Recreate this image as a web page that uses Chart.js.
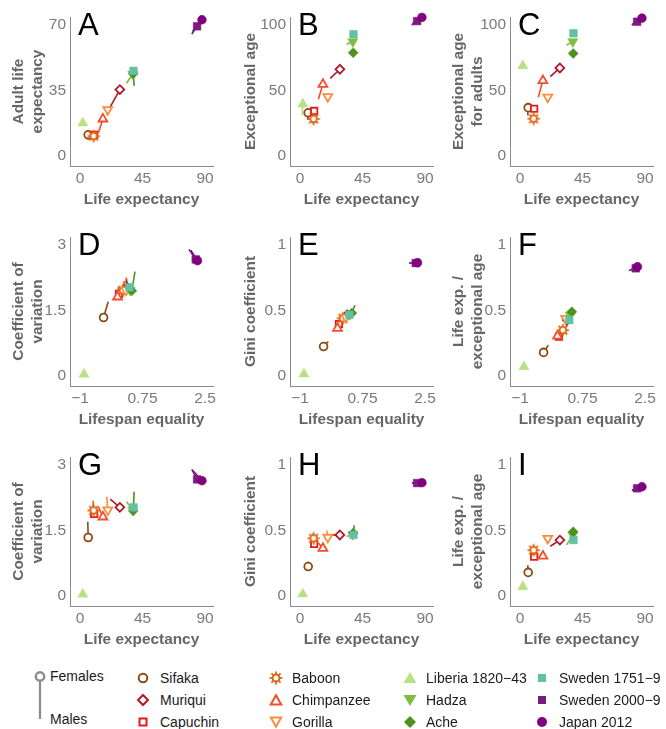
<!DOCTYPE html>
<html>
<head>
<meta charset="utf-8">
<script src="https://cdn.jsdelivr.net/npm/chart.js@4.4.1/dist/chart.umd.min.js"></script>
<style>
  html, body { margin: 0; padding: 0; background: #fff; }
  #fig { position: relative; width: 666px; height: 729px; overflow: hidden; font-family: 'Liberation Sans', Arial, sans-serif; }
  #fig canvas { position: absolute; }
  .leg { position: absolute; font-size: 14px; color: #1a1a1a; line-height: 16px; white-space: nowrap; }
  .mk { position: absolute; }
</style>
</head>
<body>
<div id="fig"></div>
<script>
// ==================== Data ====================
// order: Sifaka, Muriqui, Capuchin, Baboon, Chimpanzee, Gorilla,
//        Liberia, Hadza, Ache, Sweden 1751-9, Sweden 2000-9, Japan 2012
const populations = ['Sifaka', 'Muriqui', 'Capuchin', 'Baboon', 'Chimpanzee', 'Gorilla',
  'Liberia 1820\u221243', 'Hadza', 'Ache', 'Sweden 1751\u22129', 'Sweden 2000\u22129', 'Japan 2012'];

const lifeExpF = [5.9, 28.7, 10.2, 9.8, 16.5, 20.0, 2.0, 38.0, 38.3, 38.5, 84.3, 87.8];
const lifeExpM = [5.6, 21.8, 9.8, 9.5, 13.2, 19.3, 1.7, 33.5, 39.0, 37.0, 80.5, 81.0];

const adultLifeExpF = [11.3, 35.5, 11.3, 10.6, 19.8, 24.8, 17.6, 43.8, 44.0, 45.5, 69.3, 72.8];
const adultLifeExpM = [11.0, 26.3, 10.8, 10.2, 12.3, 22.0, 17.2, 38.9, 37.5, 44.5, 65.2, 66.5];

const exceptAgeF = [33.0, 66.2, 34.4, 28.3, 54.7, 45.3, 39.7, 87.3, 78.9, 92.9, 103.0, 105.8];
const exceptAgeM = [27.5, 59.3, 33.5, 27.5, 43.3, 45.8, 31.0, 85.3, 79.5, 91.5, 100.0, 101.0];

const exceptAgeAdultF = [36.9, 67.2, 36.1, 28.5, 57.6, 44.9, 68.9, 87.3, 78.3, 93.7, 102.5, 105.3];
const exceptAgeAdultM = [31.0, 60.6, 35.0, 28.0, 44.9, 45.5, 68.5, 84.7, 79.0, 92.5, 100.0, 100.5];

const lifespanEqF = [-0.34, 0.32, 0.09, 0.20, 0.05, 0.28, -0.89, 0.40, 0.45, 0.38, 2.24, 2.29];
const lifespanEqM = [-0.21, 0.30, 0.06, 0.24, 0.08, 0.30, -0.91, 0.30, 0.54, 0.34, 2.05, 2.10];

const cvF = [1.34, 2.03, 1.88, 1.96, 1.81, 1.97, 0.04, 1.97, 1.95, 2.03, 2.67, 2.64];
const cvM = [1.70, 2.22, 1.85, 2.18, 2.05, 2.27, 0.03, 2.16, 2.39, 2.06, 2.90, 2.88];

const giniF = [0.225, 0.466, 0.397, 0.44, 0.364, 0.448, 0.015, 0.47, 0.48, 0.466, 0.862, 0.865];
const giniM = [0.262, 0.466, 0.39, 0.475, 0.405, 0.50, 0.012, 0.455, 0.54, 0.47, 0.862, 0.865];

const ratioF = [0.18, 0.427, 0.30, 0.35, 0.305, 0.44, 0.071, 0.466, 0.49, 0.427, 0.822, 0.834];
const ratioM = [0.235, 0.38, 0.295, 0.355, 0.30, 0.44, 0.07, 0.39, 0.47, 0.42, 0.805, 0.81];

// tick labels
const lifeExpTicks = [0, 45, 90];
const adultTicks = [0, 35, 70];
const exceptTicks = [0, 50, 100];
const equalityTicks = [-1, 0.75, 2.5];
const cvTicks = [0, 1.5, 3];
const unitTicks = [0, 0.5, 1];

// ==================== Styles ====================
const colors = ['#8c4a12', '#b2182b', '#e41a1c', '#e0620d', '#f44e2c', '#fd8d3c',
  '#b8e186', '#7fbc41', '#4d9221', '#62c0a3', '#7a1b7d', '#800080'];
const shapes = ['circle', 'diamond', 'square', 'sun', 'triUp', 'triDown',
  'triUp', 'triDown', 'diamond', 'square', 'square', 'circle'];
const filled = [false, false, false, false, false, false, true, true, true, true, true, true];

const FONT = "'Liberation Sans', Arial, sans-serif";
const AXIS_GREY = '#8c8c8c';

// ==================== Markers ====================
function sunMarker(color) {
  const c = document.createElement('canvas');
  c.width = 14; c.height = 14;
  const g = c.getContext('2d');
  g.fillStyle = '#fff';
  g.strokeStyle = color;
  g.lineWidth = 1.7;
  g.beginPath(); g.arc(7, 7, 3.3, 0, Math.PI * 2); g.fill(); g.stroke();
  for (let k = 0; k < 8; k++) {
    const a = k * Math.PI / 4;
    g.beginPath();
    g.moveTo(7 + Math.cos(a) * 3.8, 7 + Math.sin(a) * 3.8);
    g.lineTo(7 + Math.cos(a) * 6.2, 7 + Math.sin(a) * 6.2);
    g.stroke();
  }
  return c;
}

function pointStyleFor(i) {
  switch (shapes[i]) {
    case 'circle': return 'circle';
    case 'diamond': return 'rectRot';
    case 'square': return 'rect';
    case 'sun': return sunMarker(colors[i]);
    default: return 'triangle';
  }
}

function radiusFor(i) {
  const f = filled[i];
  switch (shapes[i]) {
    case 'circle': return f ? 4.4 : 3.9;
    case 'diamond': return f ? 5 : 4.4;
    case 'square': return f ? 5.4 : 4.5;
    case 'sun': return 4;
    default: return f ? 5.9 : 5.1;
  }
}

// ==================== Panels ====================
const panels = [
  { letter: 'A', xF: lifeExpF, xM: lifeExpM, yF: adultLifeExpF, yM: adultLifeExpM, xt: lifeExpTicks, yt: adultTicks, xTitle: 'Life expectancy', yTitle: ['Adult life', 'expectancy'] },
  { letter: 'B', xF: lifeExpF, xM: lifeExpM, yF: exceptAgeF, yM: exceptAgeM, xt: lifeExpTicks, yt: exceptTicks, xTitle: 'Life expectancy', yTitle: 'Exceptional age' },
  { letter: 'C', xF: lifeExpF, xM: lifeExpM, yF: exceptAgeAdultF, yM: exceptAgeAdultM, xt: lifeExpTicks, yt: exceptTicks, xTitle: 'Life expectancy', yTitle: ['Exceptional age', 'for adults'] },
  { letter: 'D', xF: lifespanEqF, xM: lifespanEqM, yF: cvF, yM: cvM, xt: equalityTicks, yt: cvTicks, xTitle: 'Lifespan equality', yTitle: ['Coefficient of', 'variation'] },
  { letter: 'E', xF: lifespanEqF, xM: lifespanEqM, yF: giniF, yM: giniM, xt: equalityTicks, yt: unitTicks, xTitle: 'Lifespan equality', yTitle: 'Gini coefficient' },
  { letter: 'F', xF: lifespanEqF, xM: lifespanEqM, yF: ratioF, yM: ratioM, xt: equalityTicks, yt: unitTicks, xTitle: 'Lifespan equality', yTitle: ['Life exp. /', 'exceptional age'] },
  { letter: 'G', xF: lifeExpF, xM: lifeExpM, yF: cvF, yM: cvM, xt: lifeExpTicks, yt: cvTicks, xTitle: 'Life expectancy', yTitle: ['Coefficient of', 'variation'] },
  { letter: 'H', xF: lifeExpF, xM: lifeExpM, yF: giniF, yM: giniM, xt: lifeExpTicks, yt: unitTicks, xTitle: 'Life expectancy', yTitle: 'Gini coefficient' },
  { letter: 'I', xF: lifeExpF, xM: lifeExpM, yF: ratioF, yM: ratioM, xt: lifeExpTicks, yt: unitTicks, xTitle: 'Life expectancy', yTitle: ['Life exp. /', 'exceptional age'] }
];

const letterPlugin = {
  id: 'panelLetter',
  afterDraw(chart, args, opts) {
    const { ctx, chartArea } = chart;
    ctx.save();
    ctx.font = '31px ' + FONT;
    ctx.fillStyle = '#000';
    ctx.textBaseline = 'alphabetic';
    ctx.fillText(opts.text, chartArea.left + 8, chartArea.top + 18);
    ctx.restore();
  }
};

function fmt(v) {
  return String(v).replace('-', '\u2212');
}

function makeScale(tickVals, isX, title) {
  // place first and last tick at fixed pixel spots inside the panel
  const span = tickVals[2] - tickVals[0];
  const u = (isX ? 125 : 131) / span;
  const twoLine = Array.isArray(title);
  return {
    type: 'linear',
    position: isX ? 'bottom' : 'left',
    min: tickVals[0] - 10 / u,
    max: tickVals[2] + 8 / u,
    afterBuildTicks: s => { s.ticks = tickVals.map(v => ({ value: v })); },
    afterFit: s => { if (isX) s.height = 54; else s.width = 70; },
    grid: { display: false, drawTicks: false },
    border: { display: true, color: AXIS_GREY, width: 1 },
    ticks: {
      padding: isX ? 3 : 4,
      color: '#7a7a7a',
      autoSkip: false,
      maxRotation: 0,
      font: { family: FONT, size: 15.5 },
      callback: v => fmt(v)
    },
    title: {
      display: true,
      text: title,
      color: '#666666',
      font: { family: FONT, size: 15.4, weight: 'bold', lineHeight: 1.25 },
      padding: isX ? { top: 0, bottom: 10.4 } : { top: twoLine ? 9 : 21.4, bottom: 0 }
    }
  };
}

function buildPanel(p, idx) {
  const col = idx % 3;
  const row = Math.floor(idx / 3);
  const canvas = document.createElement('canvas');
  canvas.width = 222;
  canvas.height = 220;
  canvas.style.left = (col * 220) + 'px';
  canvas.style.top = (row * 220) + 'px';
  document.getElementById('fig').appendChild(canvas);

  const datasets = [];
  // female markers, drawn last (on top of segments)
  datasets.push({
    data: populations.map((_, i) => ({ x: p.xF[i], y: p.yF[i] })),
    showLine: false,
    order: 0,
    clip: false,
    pointStyle: populations.map((_, i) => pointStyleFor(i)),
    pointRadius: populations.map((_, i) => radiusFor(i)),
    pointRotation: populations.map((_, i) => shapes[i] === 'triDown' ? 180 : 0),
    pointBackgroundColor: populations.map((_, i) => filled[i] ? colors[i] : '#ffffff'),
    pointBorderColor: colors,
    pointBorderWidth: populations.map((_, i) => filled[i] ? 0.5 : 1.8)
  });
  // female -> male segments
  populations.forEach((_, i) => {
    datasets.push({
      data: [{ x: p.xF[i], y: p.yF[i] }, { x: p.xM[i], y: p.yM[i] }],
      showLine: true,
      order: 1,
      clip: false,
      borderColor: colors[i],
      borderWidth: 1.6,
      pointRadius: 0
    });
  });

  new Chart(canvas.getContext('2d'), {
    type: 'scatter',
    data: { datasets },
    options: {
      responsive: false,
      animation: false,
      events: [],
      layout: { padding: { left: 0, right: 9, top: 17, bottom: 0 } },
      scales: {
        x: makeScale(p.xt, true, p.xTitle),
        y: makeScale(p.yt, false, p.yTitle)
      },
      plugins: {
        legend: { display: false },
        tooltip: { enabled: false },
        panelLetter: { text: p.letter }
      }
    },
    plugins: [letterPlugin]
  });
}

// ==================== Legend ====================
function legendSvg(i) {
  const c = colors[i];
  const fill = filled[i] ? c : '#ffffff';
  const sw = filled[i] ? 0 : 2;
  let body = '';
  switch (shapes[i]) {
    case 'circle':
      body = `<circle cx="8" cy="8" r="${filled[i] ? 5 : 4.3}" fill="${fill}" stroke="${c}" stroke-width="${sw}"/>`;
      break;
    case 'diamond':
      body = filled[i]
        ? `<polygon points="8,2 14,8 8,14 2,8" fill="${fill}"/>`
        : `<polygon points="8,3 13,8 8,13 3,8" fill="${fill}" stroke="${c}" stroke-width="${sw}"/>`;
      break;
    case 'square':
      body = filled[i]
        ? `<rect x="4" y="4" width="8" height="8" fill="${fill}"/>`
        : `<rect x="4.5" y="4.5" width="7" height="7" fill="${fill}" stroke="${c}" stroke-width="${sw}"/>`;
      break;
    case 'triUp':
      body = filled[i]
        ? `<polygon points="8,2 14.5,13 1.5,13" fill="${fill}"/>`
        : `<polygon points="8,3.2 13.2,12.4 2.8,12.4" fill="${fill}" stroke="${c}" stroke-width="${sw}"/>`;
      break;
    case 'triDown':
      body = filled[i]
        ? `<polygon points="8,14 14.5,3 1.5,3" fill="${fill}"/>`
        : `<polygon points="8,12.8 13.2,3.6 2.8,3.6" fill="${fill}" stroke="${c}" stroke-width="${sw}"/>`;
      break;
    case 'sun': {
      let rays = '';
      for (let k = 0; k < 8; k++) {
        const a = k * Math.PI / 4;
        rays += `<line x1="${8 + Math.cos(a) * 3.9}" y1="${8 + Math.sin(a) * 3.9}" x2="${8 + Math.cos(a) * 6.4}" y2="${8 + Math.sin(a) * 6.4}" stroke="${c}" stroke-width="1.8"/>`;
      }
      body = `<circle cx="8" cy="8" r="3.4" fill="#fff" stroke="${c}" stroke-width="1.8"/>` + rays;
      break;
    }
  }
  return `<svg width="16" height="16" viewBox="0 0 16 16">${body}</svg>`;
}

function buildLegend() {
  const fig = document.getElementById('fig');
  const markerX = [143, 276, 410, 542];
  const textX = [160, 292, 426, 559];
  const rowY = [678, 700, 721.5];

  populations.forEach((name, i) => {
    const col = Math.floor(i / 3);
    const row = i % 3;
    const mk = document.createElement('div');
    mk.className = 'mk';
    mk.style.left = (markerX[col] - 8) + 'px';
    mk.style.top = (rowY[row] - 8) + 'px';
    mk.innerHTML = legendSvg(i);
    fig.appendChild(mk);

    const t = document.createElement('div');
    t.className = 'leg';
    t.style.left = textX[col] + 'px';
    t.style.top = (rowY[row] - 8) + 'px';
    t.textContent = name;
    fig.appendChild(t);
  });

  // sex key
  const key = document.createElement('div');
  key.className = 'mk';
  key.style.left = '30px';
  key.style.top = '666px';
  key.innerHTML = `<svg width="20" height="60" viewBox="0 0 20 60">
    <line x1="10" y1="15" x2="10" y2="53" stroke="${AXIS_GREY}" stroke-width="2.2"/>
    <circle cx="10" cy="10.5" r="4.2" fill="#fff" stroke="${AXIS_GREY}" stroke-width="2.4"/>
  </svg>`;
  fig.appendChild(key);

  [['Females', 676], ['Males', 718.5]].forEach(([txt, y]) => {
    const t = document.createElement('div');
    t.className = 'leg';
    t.style.left = '50px';
    t.style.top = (y - 8) + 'px';
    t.textContent = txt;
    fig.appendChild(t);
  });
}

// ==================== Initialization ====================
panels.forEach(buildPanel);
buildLegend();
</script>
</body>
</html>
